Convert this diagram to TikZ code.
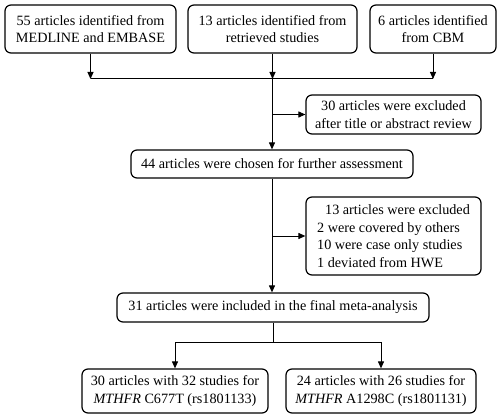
\documentclass[tikz,border=0pt]{standalone}
\usepackage{fontspec}
\setmainfont{Liberation Serif}
\usetikzlibrary{positioning, arrows.meta}

\begin{document}
\begin{tikzpicture}[->,>={Stealth[length=7pt,width=6pt,inset=0pt]},x=1pt,y=-1pt,line width=1pt,
	box/.style={rectangle, draw, line width=1.2pt, rounded corners=6pt, align=center, inner sep=1pt, font=\fontsize{14.2}{17.5}\selectfont}]
		\useasboundingbox (0,0) rectangle (501,420);
		\node[box, minimum width=171pt, minimum height=48pt	] at (90.5,29)	(SRC_MED) 	{55 articles identified from\\MEDLINE and EMBASE};
		\node[box, minimum width=169pt, minimum height=48pt	] at (272.5,29)	(SRC_RET) 	{13 articles identified from\\retrieved studies};
		\node[box, minimum width=126pt, minimum height=48pt	] at (433,29)	(SRC_CBM) 	{6 articles identified\\from CBM};
		\coordinate (J_TOP) at (272,79);
		\node[box, minimum width=175pt, minimum height=39pt	] at (393.5,114.5)	(EXCL_1) 	{30 articles were excluded\\after title or abstract review};
		\node[box, minimum width=282pt, minimum height=28pt	] at (272,164)	(CHOSEN) 	{44 articles were chosen for further assessment};
		\node[box, align=left, minimum width=175pt, minimum height=78pt] at (393.5,236)	(EXCL_2) 	{\hspace{8pt}13 articles were excluded\\2 were covered by others\\10 were case only studies\\1 deviated from HWE};
		\node[box, minimum width=312pt, minimum height=29pt	] at (273,307.5)	(INCL) 		{31 articles were included in the final meta-analysis};
		\coordinate (J_BOT) at (273,342);
		\node[box, minimum width=186pt, minimum height=44pt	] at (175,391)	(C677T) 	{30 articles with 32 studies for\\\textit{MTHFR} C677T (rs1801133)};
		\node[box, minimum width=190pt, minimum height=44pt	] at (381,391)	(A1298C) 	{24 articles with 26 studies for\\\textit{MTHFR} A1298C (rs1801131)};

		% sources merge
		\draw[-] (SRC_MED.south |- J_TOP) -- (SRC_CBM.south |- J_TOP);
		\draw	(SRC_MED)	-- (SRC_MED.south |- J_TOP);
		\draw	(SRC_RET)	-- (SRC_RET.south |- J_TOP);
		\draw	(SRC_CBM)	-- (SRC_CBM.south |- J_TOP);
		\draw	(J_TOP)		-- (CHOSEN);
		\draw	(J_TOP |- EXCL_1)	-- (EXCL_1);
		\draw	(CHOSEN)	-- (INCL.north -| CHOSEN);
		\draw	(CHOSEN.south |- EXCL_2) -- (EXCL_2);

		% split
		\draw[-] (INCL) -- (J_BOT);
		\draw[-] (C677T.north |- J_BOT) -- (A1298C.north |- J_BOT);
		\draw	(C677T.north |- J_BOT)	-- (C677T);
		\draw	(A1298C.north |- J_BOT)	-- (A1298C);
	\end{tikzpicture}
\end{document}
